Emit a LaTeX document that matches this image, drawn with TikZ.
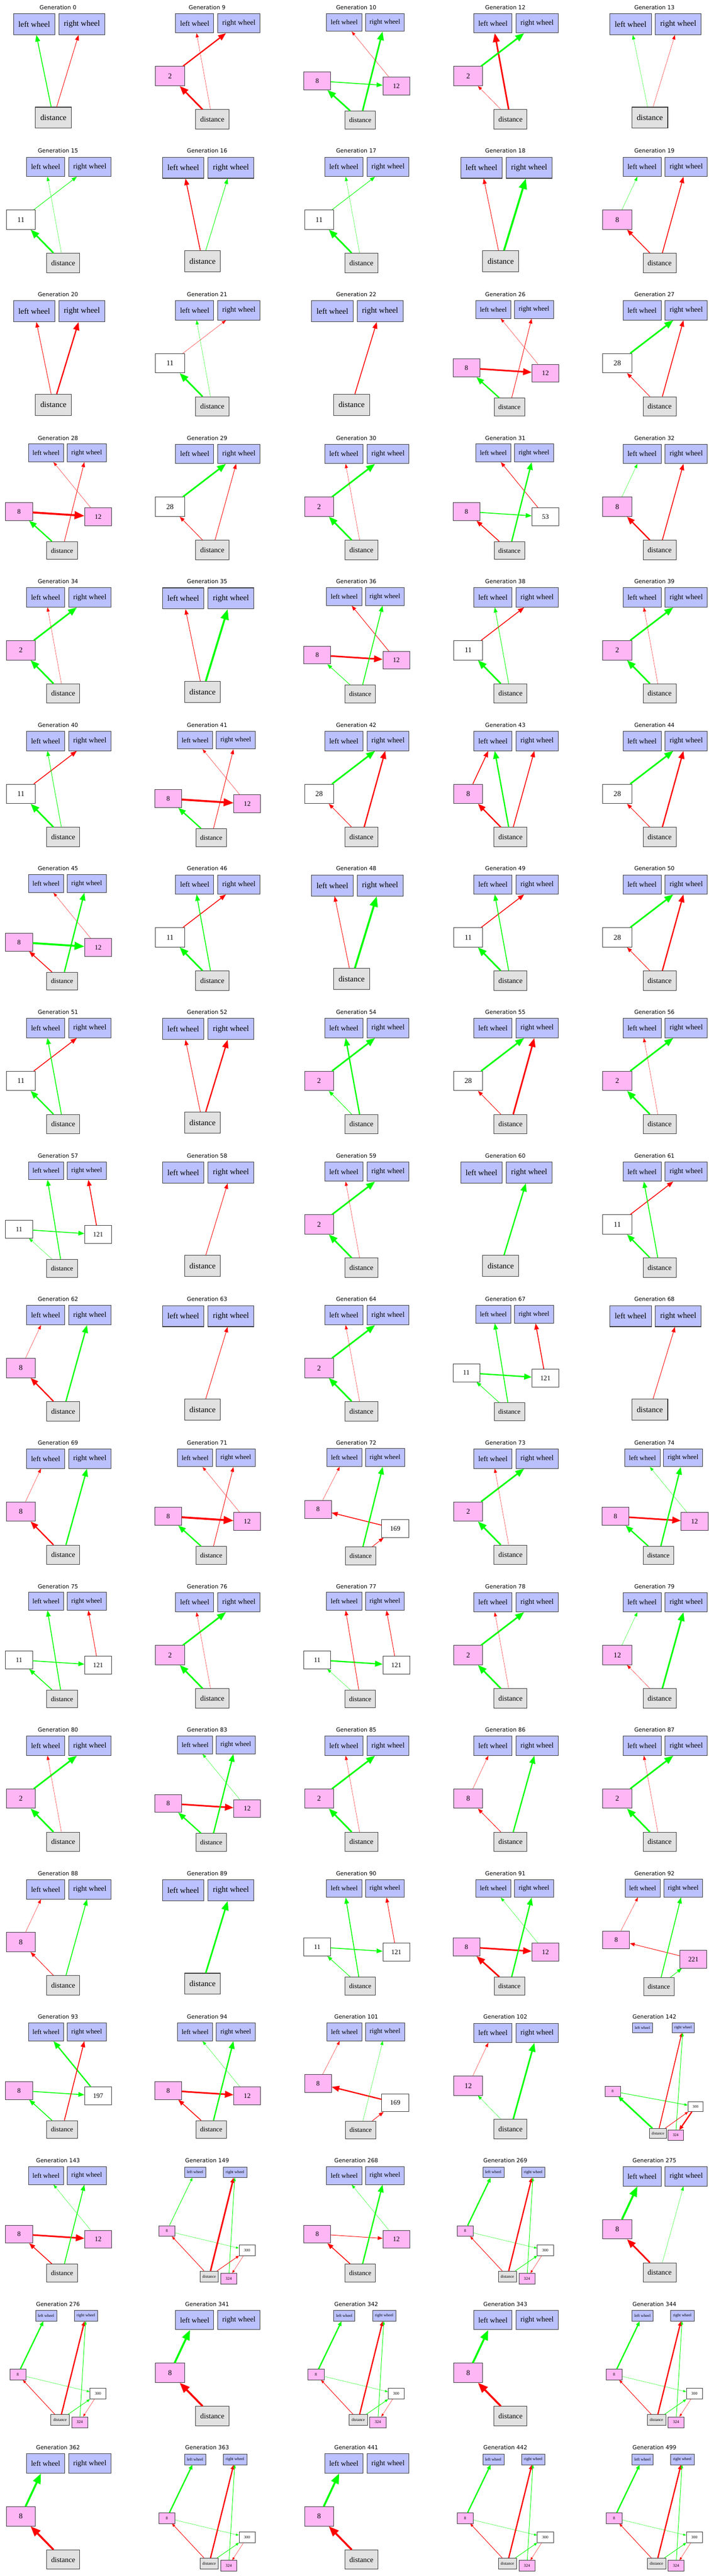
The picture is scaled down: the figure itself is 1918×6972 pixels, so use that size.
\documentclass[tikz,border=0pt]{standalone}
\usepackage{fontspec}
\setmainfont{Liberation Serif}
\newfontfamily\titlefont{DejaVu Sans}
\usetikzlibrary{arrows.meta}

\definecolor{wheelblue}{RGB}{187,193,255}
\definecolor{hidpink}{RGB}{255,182,245}
\definecolor{distgray}{RGB}{225,225,225}
\definecolor{boxline}{RGB}{55,55,55}
\definecolor{wgreen}{RGB}{0,255,0}
\definecolor{wred}{RGB}{255,0,0}

\newcommand{\boxfont}[1]{\pgfmathsetlengthmacro\bfsz{#1*10.8pt}\fontsize{\bfsz}{\bfsz}\selectfont}

%panel frame and title
\newcommand{\panel}[3]{\begin{scope}[shift={(#1,#2)}]
  \node[title] (t) at (157,25.5) {Generation #3};}

%only inputs and outputs
\newcommand{\nodesA}{%
  \def\bk{1}\tikzset{>={Triangle[length=5pt 3.5,width=3.6pt 2.8]}}%
  \node[wheel] (lw) at (92.5,65.5) {left wheel};
  \node[wheel] (rw) at (221.5,65.5) {right wheel};
  \node[dist] (d) at (144.5,318.5) {distance};
}
%one hidden node on the left
\newcommand{\nodesB}[2]{%
  \def\bk{0.92}\tikzset{>={Triangle[length=4.6pt 3.5,width=3.3pt 2.8]}}%
  \node[wheel] (lw) at (123.5,63) {left wheel};
  \node[wheel] (rw) at (243,63) {right wheel};
  \node[#2] (h) at (56.5,206) {#1};
  \node[dist] (d) at (171,323) {distance};
}
%two hidden nodes side by side
\newcommand{\nodesC}[4]{%
  \def\bk{0.85}\tikzset{>={Triangle[length=4.3pt 3.5,width=3.1pt 2.8]}}%
  \node[wheel] (lw) at (124.5,60.5) {left wheel};
  \node[wheel] (rw) at (234.5,60.5) {right wheel};
  \node[#2] (hl) at (51.5,219) {#1};
  \node[#4] (hr) at (265.5,233) {#3};
  \node[dist] (d) at (168,324.5) {distance};
}
%two hidden nodes, right one lower
\newcommand{\nodesE}[4]{%
  \def\bk{0.85}\tikzset{>={Triangle[length=4.3pt 3.5,width=3.1pt 2.8]}}%
  \node[wheel] (lw) at (125,60) {left wheel};
  \node[wheel] (rw) at (235,60) {right wheel};
  \node[#2] (hl) at (53.5,200) {#1};
  \node[#4] (hr) at (262.5,252) {#3};
  \node[dist] (d) at (169,326) {distance};
}
%three hidden nodes, small
\newcommand{\nodesF}{%
  \def\bk{0.51}\tikzset{>={Triangle[length=3.5pt 1.6,width=2.5pt 1.5]}}%
  \node[wheel] (lw) at (124.5,51.5) {left wheel};
  \node[wheel] (rw) at (232.5,51.5) {right wheel};
  \node[hid] (n8) at (48,210.5) {8};
  \node[wht] (n300) at (265,262.5) {300};
  \node[dist] (d) at (162.5,333.5) {distance};
  \node[hid] (n324) at (215.5,339.5) {324};
}

\begin{document}
\begin{tikzpicture}[x=0.5pt,y=-0.5pt,
  title/.style={font=\titlefont\fontsize{7.6pt}{9pt}\selectfont, anchor=base, inner sep=0pt},
  box/.style={draw=boxline, rectangle, line width=#1*0.75pt, minimum height=#1*28.5pt, minimum width=#1*42.75pt, inner xsep=#1*6.6pt, inner ysep=0pt, font=\boxfont{#1}},
  wheel/.style={box=\bk, fill=wheelblue},
  hid/.style={box=\bk, fill=hidpink},
  wht/.style={box=\bk, fill=white},
  dist/.style={box=\bk, fill=distgray},
  g0/.style={->, draw=wgreen, line width=0.3pt},
  g1/.style={->, draw=wgreen, line width=0.65pt},
  g2/.style={->, draw=wgreen, line width=1.1pt},
  g3/.style={->, draw=wgreen, line width=1.7pt},
  g4/.style={->, draw=wgreen, line width=2.1pt},
  g5/.style={->, draw=wgreen, line width=2.6pt},
  r0/.style={->, draw=wred, line width=0.3pt},
  r1/.style={->, draw=wred, line width=0.65pt},
  r2/.style={->, draw=wred, line width=1.1pt},
  r3/.style={->, draw=wred, line width=1.7pt},
  r4/.style={->, draw=wred, line width=2.1pt},
  r5/.style={->, draw=wred, line width=2.6pt},
  ]
\path[use as bounding box] (0,0) rectangle (1918,6972);

%Panel: Generation 0
\panel{0}{0}{0}
\nodesA
\draw[g2] (d) -- (lw);
\draw[r1] (d) -- (rw);
\end{scope}
%Panel: Generation 9
\panel{403.5}{0}{9}
\nodesB{2}{hid}
\draw[r4] (d) -- (h);
\draw[r3] (h) -- (rw);
\draw[r0] (d) -- (lw);
\end{scope}
%Panel: Generation 10
\panel{807}{0}{10}
\nodesC{8}{hid}{12}{hid}
\draw[g4] (d) -- (hl);
\draw[g2] (hl) -- (hr);
\draw[g4] (d) -- (rw);
\draw[r0] (hr) -- (lw);
\end{scope}
%Panel: Generation 12
\panel{1210.5}{0}{12}
\nodesB{2}{hid}
\draw[r4] (d) -- (lw);
\draw[g4] (h) -- (rw);
\draw[r0] (d) -- (h);
\end{scope}
%Panel: Generation 13
\panel{1614}{0}{13}
\nodesA
\draw[g0] (d) -- (lw);
\draw[r0] (d) -- (rw);
\end{scope}

%Panel: Generation 15
\panel{0}{388.5}{15}
\nodesB{11}{wht}
\draw[g4] (d) -- (h);
\draw[g1] (h) -- (rw);
\draw[g0] (d) -- (lw);
\end{scope}
%Panel: Generation 16
\panel{403.5}{388.5}{16}
\nodesA
\draw[r2] (d) -- (lw);
\draw[g1] (d) -- (rw);
\end{scope}
%Panel: Generation 17
\panel{807}{388.5}{17}
\nodesB{11}{wht}
\draw[g4] (d) -- (h);
\draw[g1] (h) -- (rw);
\draw[g0] (d) -- (lw);
\end{scope}
%Panel: Generation 18
\panel{1210.5}{388.5}{18}
\nodesA
\draw[r1] (d) -- (lw);
\draw[g5] (d) -- (rw);
\end{scope}
%Panel: Generation 19
\panel{1614}{388.5}{19}
\nodesB{8}{hid}
\draw[r2] (d) -- (h);
\draw[g0] (h) -- (lw);
\draw[r2] (d) -- (rw);
\end{scope}

%Panel: Generation 20
\panel{0}{777}{20}
\nodesA
\draw[r1] (d) -- (lw);
\draw[r3] (d) -- (rw);
\end{scope}
%Panel: Generation 21
\panel{403.5}{777}{21}
\nodesB{11}{wht}
\draw[g4] (d) -- (h);
\draw[r0] (h) -- (rw);
\draw[g0] (d) -- (lw);
\end{scope}
%Panel: Generation 22
\panel{807}{777}{22}
\nodesA
\draw[r2] (d) -- (rw);
\end{scope}
%Panel: Generation 26
\panel{1210.5}{777}{26}
\nodesC{8}{hid}{12}{hid}
\draw[g3] (d) -- (hl);
\draw[r4] (hl) -- (hr);
\draw[r0] (hr) -- (lw);
\draw[r1] (d) -- (rw);
\end{scope}
%Panel: Generation 27
\panel{1614}{777}{27}
\nodesB{28}{wht}
\draw[g4] (h) -- (rw);
\draw[r1] (d) -- (h);
\draw[r2] (d) -- (rw);
\end{scope}

%Panel: Generation 28
\panel{0}{1165.5}{28}
\nodesC{8}{hid}{12}{hid}
\draw[g3] (d) -- (hl);
\draw[r5] (hl) -- (hr);
\draw[r0] (hr) -- (lw);
\draw[r1] (d) -- (rw);
\end{scope}
%Panel: Generation 29
\panel{403.5}{1165.5}{29}
\nodesB{28}{wht}
\draw[g4] (h) -- (rw);
\draw[r1] (d) -- (h);
\draw[r1] (d) -- (rw);
\end{scope}
%Panel: Generation 30
\panel{807}{1165.5}{30}
\nodesB{2}{hid}
\draw[g4] (h) -- (rw);
\draw[g4] (d) -- (h);
\draw[r0] (d) -- (lw);
\end{scope}
%Panel: Generation 31
\panel{1210.5}{1165.5}{31}
\nodesC{8}{hid}{53}{wht}
\draw[g2] (hl) -- (hr);
\draw[r2] (d) -- (hl);
\draw[r1] (hr) -- (lw);
\draw[g3] (d) -- (rw);
\end{scope}
%Panel: Generation 32
\panel{1614}{1165.5}{32}
\nodesB{8}{hid}
\draw[g0] (h) -- (lw);
\draw[r3] (d) -- (h);
\draw[r2] (d) -- (rw);
\end{scope}

%Panel: Generation 34
\panel{0}{1554}{34}
\nodesB{2}{hid}
\draw[g4] (h) -- (rw);
\draw[g4] (d) -- (h);
\draw[r0] (d) -- (lw);
\end{scope}
%Panel: Generation 35
\panel{403.5}{1554}{35}
\nodesA
\draw[r1] (d) -- (lw);
\draw[g5] (d) -- (rw);
\end{scope}
%Panel: Generation 36
\panel{807}{1554}{36}
\nodesC{8}{hid}{12}{hid}
\draw[r4] (hl) -- (hr);
\draw[g1] (d) -- (hl);
\draw[r1] (hr) -- (lw);
\draw[g2] (d) -- (rw);
\end{scope}
%Panel: Generation 38
\panel{1210.5}{1554}{38}
\nodesB{11}{wht}
\draw[r2] (h) -- (rw);
\draw[g4] (d) -- (h);
\draw[g1] (d) -- (lw);
\end{scope}
%Panel: Generation 39
\panel{1614}{1554}{39}
\nodesB{2}{hid}
\draw[g4] (h) -- (rw);
\draw[g4] (d) -- (h);
\draw[r0] (d) -- (lw);
\end{scope}

%Panel: Generation 40
\panel{0}{1942.5}{40}
\nodesB{11}{wht}
\draw[r2] (h) -- (rw);
\draw[g4] (d) -- (h);
\draw[g1] (d) -- (lw);
\end{scope}
%Panel: Generation 41
\panel{403.5}{1942.5}{41}
\nodesC{8}{hid}{12}{hid}
\draw[r5] (hl) -- (hr);
\draw[g3] (d) -- (hl);
\draw[r0] (hr) -- (lw);
\draw[r1] (d) -- (rw);
\end{scope}
%Panel: Generation 42
\panel{807}{1942.5}{42}
\nodesB{28}{wht}
\draw[g4] (h) -- (rw);
\draw[r1] (d) -- (h);
\draw[r3] (d) -- (rw);
\end{scope}
%Panel: Generation 43
\panel{1210.5}{1942.5}{43}
\nodesB{8}{hid}
\draw[r2] (h) -- (lw);
\draw[r3] (d) -- (h);
\draw[g3] (d) -- (lw);
\draw[r2] (d) -- (rw);
\end{scope}
%Panel: Generation 44
\panel{1614}{1942.5}{44}
\nodesB{28}{wht}
\draw[g4] (h) -- (rw);
\draw[r1] (d) -- (h);
\draw[r3] (d) -- (rw);
\end{scope}

%Panel: Generation 45
\panel{0}{2331}{45}
\nodesC{8}{hid}{12}{hid}
\draw[g5] (hl) -- (hr);
\draw[r2] (d) -- (hl);
\draw[r0] (hr) -- (lw);
\draw[g3] (d) -- (rw);
\end{scope}
%Panel: Generation 46
\panel{403.5}{2331}{46}
\nodesB{11}{wht}
\draw[r2] (h) -- (rw);
\draw[g4] (d) -- (h);
\draw[g2] (d) -- (lw);
\end{scope}
%Panel: Generation 48
\panel{807}{2331}{48}
\nodesA
\draw[r1] (d) -- (lw);
\draw[g5] (d) -- (rw);
\end{scope}
%Panel: Generation 49
\panel{1210.5}{2331}{49}
\nodesB{11}{wht}
\draw[r2] (h) -- (rw);
\draw[g4] (d) -- (h);
\draw[g2] (d) -- (lw);
\end{scope}
%Panel: Generation 50
\panel{1614}{2331}{50}
\nodesB{28}{wht}
\draw[g4] (h) -- (rw);
\draw[r1] (d) -- (h);
\draw[r3] (d) -- (rw);
\end{scope}

%Panel: Generation 51
\panel{0}{2719.5}{51}
\nodesB{11}{wht}
\draw[r2] (h) -- (rw);
\draw[g3] (d) -- (h);
\draw[g2] (d) -- (lw);
\end{scope}
%Panel: Generation 52
\panel{403.5}{2719.5}{52}
\nodesA
\draw[r1] (d) -- (lw);
\draw[r3] (d) -- (rw);
\end{scope}
%Panel: Generation 54
\panel{807}{2719.5}{54}
\nodesB{2}{hid}
\draw[g4] (h) -- (rw);
\draw[g1] (d) -- (h);
\draw[g3] (d) -- (lw);
\end{scope}
%Panel: Generation 55
\panel{1210.5}{2719.5}{55}
\nodesB{28}{wht}
\draw[g4] (h) -- (rw);
\draw[r1] (d) -- (h);
\draw[r4] (d) -- (rw);
\end{scope}
%Panel: Generation 56
\panel{1614}{2719.5}{56}
\nodesB{2}{hid}
\draw[g4] (h) -- (rw);
\draw[g4] (d) -- (h);
\draw[r0] (d) -- (lw);
\end{scope}

%Panel: Generation 57
\panel{0}{3108}{57}
\nodesC{11}{wht}{121}{wht}
\draw[g2] (hl) -- (hr);
\draw[g0] (d) -- (hl);
\draw[g2] (d) -- (lw);
\draw[r2] (hr) -- (rw);
\end{scope}
%Panel: Generation 58
\panel{403.5}{3108}{58}
\nodesA
\draw[r1] (d) -- (rw);
\end{scope}
%Panel: Generation 59
\panel{807}{3108}{59}
\nodesB{2}{hid}
\draw[g4] (h) -- (rw);
\draw[g4] (d) -- (h);
\draw[r0] (d) -- (lw);
\end{scope}
%Panel: Generation 60
\panel{1210.5}{3108}{60}
\nodesA
\draw[g3] (d) -- (rw);
\end{scope}
%Panel: Generation 61
\panel{1614}{3108}{61}
\nodesB{11}{wht}
\draw[r2] (h) -- (rw);
\draw[g3] (d) -- (h);
\draw[g2] (d) -- (lw);
\end{scope}

%Panel: Generation 62
\panel{0}{3496.5}{62}
\nodesB{8}{hid}
\draw[r0] (h) -- (lw);
\draw[r3] (d) -- (h);
\draw[g3] (d) -- (rw);
\end{scope}
%Panel: Generation 63
\panel{403.5}{3496.5}{63}
\nodesA
\draw[r1] (d) -- (rw);
\end{scope}
%Panel: Generation 64
\panel{807}{3496.5}{64}
\nodesB{2}{hid}
\draw[g4] (h) -- (rw);
\draw[g4] (d) -- (h);
\draw[r0] (d) -- (lw);
\end{scope}
%Panel: Generation 67
\panel{1210.5}{3496.5}{67}
\nodesC{11}{wht}{121}{wht}
\draw[g3] (hl) -- (hr);
\draw[g1] (d) -- (hl);
\draw[g2] (d) -- (lw);
\draw[r2] (hr) -- (rw);
\end{scope}
%Panel: Generation 68
\panel{1614}{3496.5}{68}
\nodesA
\draw[r1] (d) -- (rw);
\end{scope}

%Panel: Generation 69
\panel{0}{3885}{69}
\nodesB{8}{hid}
\draw[r0] (h) -- (lw);
\draw[r3] (d) -- (h);
\draw[g3] (d) -- (rw);
\end{scope}
%Panel: Generation 71
\panel{403.5}{3885}{71}
\nodesC{8}{hid}{12}{hid}
\draw[r5] (hl) -- (hr);
\draw[g3] (d) -- (hl);
\draw[r0] (hr) -- (lw);
\draw[r1] (d) -- (rw);
\end{scope}
%Panel: Generation 72
\panel{807}{3885}{72}
\nodesE{8}{hid}{169}{wht}
\draw[r2] (hr) -- (hl);
\draw[r1] (d) -- (hr);
\draw[r0] (hl) -- (lw);
\draw[g3] (d) -- (rw);
\end{scope}
%Panel: Generation 73
\panel{1210.5}{3885}{73}
\nodesB{2}{hid}
\draw[g4] (h) -- (rw);
\draw[g4] (d) -- (h);
\draw[r0] (d) -- (lw);
\end{scope}
%Panel: Generation 74
\panel{1614}{3885}{74}
\nodesC{8}{hid}{12}{hid}
\draw[r4] (hl) -- (hr);
\draw[g3] (d) -- (hl);
\draw[g0] (hr) -- (lw);
\draw[g3] (d) -- (rw);
\end{scope}

%Panel: Generation 75
\panel{0}{4273.5}{75}
\nodesC{11}{wht}{121}{wht}
\draw[g2] (hl) -- (hr);
\draw[g2] (d) -- (hl);
\draw[g2] (d) -- (lw);
\draw[r1] (hr) -- (rw);
\end{scope}
%Panel: Generation 76
\panel{403.5}{4273.5}{76}
\nodesB{2}{hid}
\draw[g4] (h) -- (rw);
\draw[g4] (d) -- (h);
\draw[r0] (d) -- (lw);
\end{scope}
%Panel: Generation 77
\panel{807}{4273.5}{77}
\nodesC{11}{wht}{121}{wht}
\draw[g3] (hl) -- (hr);
\draw[g0] (d) -- (hl);
\draw[r1] (d) -- (lw);
\draw[r1] (hr) -- (rw);
\end{scope}
%Panel: Generation 78
\panel{1210.5}{4273.5}{78}
\nodesB{2}{hid}
\draw[g4] (h) -- (rw);
\draw[g4] (d) -- (h);
\draw[r0] (d) -- (lw);
\end{scope}
%Panel: Generation 79
\panel{1614}{4273.5}{79}
\nodesB{12}{hid}
\draw[g0] (h) -- (lw);
\draw[r0] (d) -- (h);
\draw[g4] (d) -- (rw);
\end{scope}

%Panel: Generation 80
\panel{0}{4662}{80}
\nodesB{2}{hid}
\draw[g4] (h) -- (rw);
\draw[g4] (d) -- (h);
\draw[r0] (d) -- (lw);
\end{scope}
%Panel: Generation 83
\panel{403.5}{4662}{83}
\nodesC{8}{hid}{12}{hid}
\draw[r4] (hl) -- (hr);
\draw[g3] (d) -- (hl);
\draw[g0] (hr) -- (lw);
\draw[g3] (d) -- (rw);
\end{scope}
%Panel: Generation 85
\panel{807}{4662}{85}
\nodesB{2}{hid}
\draw[g4] (h) -- (rw);
\draw[g4] (d) -- (h);
\draw[r0] (d) -- (lw);
\end{scope}
%Panel: Generation 86
\panel{1210.5}{4662}{86}
\nodesB{8}{hid}
\draw[r0] (h) -- (lw);
\draw[r1] (d) -- (h);
\draw[g3] (d) -- (rw);
\end{scope}
%Panel: Generation 87
\panel{1614}{4662}{87}
\nodesB{2}{hid}
\draw[g4] (h) -- (rw);
\draw[g4] (d) -- (h);
\draw[r0] (d) -- (lw);
\end{scope}

%Panel: Generation 88
\panel{0}{5050.5}{88}
\nodesB{8}{hid}
\draw[r0] (h) -- (lw);
\draw[r1] (d) -- (h);
\draw[g2] (d) -- (rw);
\end{scope}
%Panel: Generation 89
\panel{403.5}{5050.5}{89}
\nodesA
\draw[g4] (d) -- (rw);
\end{scope}
%Panel: Generation 90
\panel{807}{5050.5}{90}
\nodesC{11}{wht}{121}{wht}
\draw[g2] (hl) -- (hr);
\draw[g1] (d) -- (hl);
\draw[g2] (d) -- (lw);
\draw[r1] (hr) -- (rw);
\end{scope}
%Panel: Generation 91
\panel{1210.5}{5050.5}{91}
\nodesC{8}{hid}{12}{hid}
\draw[r4] (hl) -- (hr);
\draw[r4] (d) -- (hl);
\draw[g0] (hr) -- (lw);
\draw[g3] (d) -- (rw);
\end{scope}
%Panel: Generation 92
\panel{1614}{5050.5}{92}
\nodesE{8}{hid}{221}{hid}
\draw[r1] (hr) -- (hl);
\draw[g1] (d) -- (hr);
\draw[r0] (hl) -- (lw);
\draw[g2] (d) -- (rw);
\end{scope}

%Panel: Generation 93
\panel{0}{5439}{93}
\nodesC{8}{hid}{197}{wht}
\draw[g2] (hl) -- (hr);
\draw[g2] (d) -- (hl);
\draw[g3] (hr) -- (lw);
\draw[r2] (d) -- (rw);
\end{scope}
%Panel: Generation 94
\panel{403.5}{5439}{94}
\nodesC{8}{hid}{12}{hid}
\draw[r4] (hl) -- (hr);
\draw[r2] (d) -- (hl);
\draw[g0] (hr) -- (lw);
\draw[g3] (d) -- (rw);
\end{scope}
%Panel: Generation 101
\panel{807}{5439}{101}
\nodesE{8}{hid}{169}{wht}
\draw[r3] (hr) -- (hl);
\draw[r1] (d) -- (hr);
\draw[r0] (hl) -- (lw);
\draw[g0] (d) -- (rw);
\end{scope}
%Panel: Generation 102
\panel{1210.5}{5439}{102}
\nodesB{12}{hid}
\draw[r0] (h) -- (lw);
\draw[g0] (d) -- (h);
\draw[g4] (d) -- (rw);
\end{scope}
%Panel: Generation 142
\panel{1614}{5439}{142}
\def\bk{0.48}\tikzset{>={Triangle[length=3.5pt 1.6,width=2.5pt 1.5]}}
\node[wheel] (lw) at (124.5,49) {left wheel};
\node[wheel] (rw) at (234.5,49) {right wheel};
\node[hid] (n8) at (44,221) {8};
\node[wht] (n300) at (268,262.5) {300};
\node[dist] (d) at (166.5,335) {distance};
\node[hid] (n324) at (214.5,340) {324};
\draw[g4] (d) -- (n8);
\draw[g1] (n8) -- (n300);
\draw[r2] (d) -- (rw);
\draw[g1] (n324) -- (rw);
\draw[r1] (d) -- (n300);
\draw[r3] (n300) -- (n324);
\end{scope}

%Panel: Generation 143
\panel{0}{5827.5}{143}
\nodesC{8}{hid}{12}{hid}
\draw[r4] (hl) -- (hr);
\draw[r2] (d) -- (hl);
\draw[g0] (hr) -- (lw);
\draw[g2] (d) -- (rw);
\end{scope}
%Panel: Generation 149
\panel{403.5}{5827.5}{149}
\nodesF
\draw[g1] (n8) -- (lw);
\draw[r1] (d) -- (n8);
\draw[g0] (n8) -- (n300);
\draw[r4] (d) -- (rw);
\draw[g1] (n324) -- (rw);
\draw[r1] (d) -- (n300);
\draw[r0] (n300) -- (n324);
\end{scope}
%Panel: Generation 268
\panel{807}{5827.5}{268}
\nodesC{8}{hid}{12}{hid}
\draw[r1] (hl) -- (hr);
\draw[r2] (d) -- (hl);
\draw[g0] (hr) -- (lw);
\draw[g3] (d) -- (rw);
\end{scope}
%Panel: Generation 269
\panel{1210.5}{5827.5}{269}
\nodesF
\draw[g3] (n8) -- (lw);
\draw[r1] (d) -- (n8);
\draw[g0] (n8) -- (n300);
\draw[r3] (d) -- (rw);
\draw[g1] (n324) -- (rw);
\draw[g1] (d) -- (n300);
\draw[r0] (n300) -- (n324);
\end{scope}
%Panel: Generation 275
\panel{1614}{5827.5}{275}
\nodesB{8}{hid}
\draw[r4] (d) -- (h);
\draw[g5] (h) -- (lw);
\draw[g0] (d) -- (rw);
\end{scope}

%Panel: Generation 276
\panel{0}{6216}{276}
\nodesF
\draw[g3] (n8) -- (lw);
\draw[r1] (d) -- (n8);
\draw[g0] (n8) -- (n300);
\draw[r3] (d) -- (rw);
\draw[g1] (n324) -- (rw);
\draw[g1] (d) -- (n300);
\draw[r0] (n300) -- (n324);
\end{scope}
%Panel: Generation 341
\panel{403.5}{6216}{341}
\nodesB{8}{hid}
\draw[r5] (d) -- (h);
\draw[g5] (h) -- (lw);
\end{scope}
%Panel: Generation 342
\panel{807}{6216}{342}
\nodesF
\draw[g3] (n8) -- (lw);
\draw[r1] (d) -- (n8);
\draw[g0] (n8) -- (n300);
\draw[r3] (d) -- (rw);
\draw[g1] (n324) -- (rw);
\draw[g1] (d) -- (n300);
\draw[r0] (n300) -- (n324);
\end{scope}
%Panel: Generation 343
\panel{1210.5}{6216}{343}
\nodesB{8}{hid}
\draw[r5] (d) -- (h);
\draw[g5] (h) -- (lw);
\end{scope}
%Panel: Generation 344
\panel{1614}{6216}{344}
\nodesF
\draw[g3] (n8) -- (lw);
\draw[r1] (d) -- (n8);
\draw[g0] (n8) -- (n300);
\draw[r3] (d) -- (rw);
\draw[g1] (n324) -- (rw);
\draw[g1] (d) -- (n300);
\draw[r0] (n300) -- (n324);
\end{scope}

%Panel: Generation 362
\panel{0}{6604.5}{362}
\nodesB{8}{hid}
\draw[r5] (d) -- (h);
\draw[g5] (h) -- (lw);
\end{scope}
%Panel: Generation 363
\panel{403.5}{6604.5}{363}
\nodesF
\draw[g3] (n8) -- (lw);
\draw[r1] (d) -- (n8);
\draw[g0] (n8) -- (n300);
\draw[r3] (d) -- (rw);
\draw[g1] (n324) -- (rw);
\draw[g1] (d) -- (n300);
\draw[r0] (n300) -- (n324);
\end{scope}
%Panel: Generation 441
\panel{807}{6604.5}{441}
\nodesB{8}{hid}
\draw[r5] (d) -- (h);
\draw[g5] (h) -- (lw);
\end{scope}
%Panel: Generation 442
\panel{1210.5}{6604.5}{442}
\nodesF
\draw[g3] (n8) -- (lw);
\draw[r1] (d) -- (n8);
\draw[g0] (n8) -- (n300);
\draw[r3] (d) -- (rw);
\draw[g1] (n324) -- (rw);
\draw[g1] (d) -- (n300);
\draw[r0] (n300) -- (n324);
\end{scope}
%Panel: Generation 499
\panel{1614}{6604.5}{499}
\nodesF
\draw[g3] (n8) -- (lw);
\draw[r1] (d) -- (n8);
\draw[g0] (n8) -- (n300);
\draw[r3] (d) -- (rw);
\draw[g1] (n324) -- (rw);
\draw[g1] (d) -- (n300);
\draw[r0] (n300) -- (n324);
\end{scope}

\end{tikzpicture}
\end{document}
